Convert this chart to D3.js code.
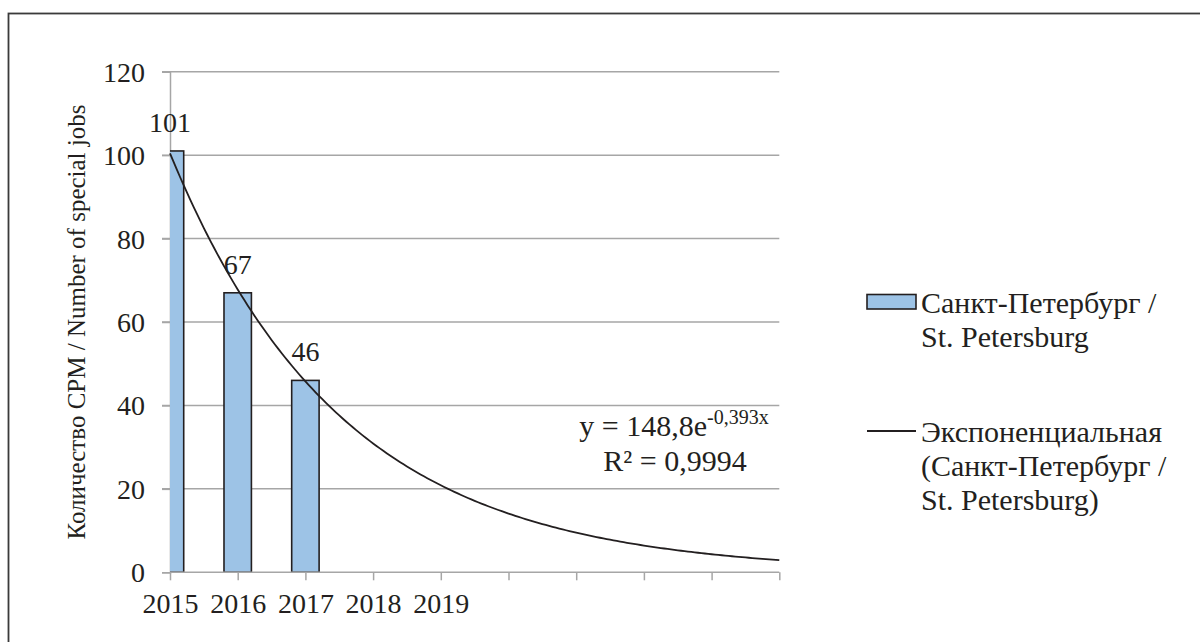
<!DOCTYPE html>
<html><head><meta charset="utf-8">
<script src="https://cdn.jsdelivr.net/npm/d3@7/dist/d3.min.js"></script>
<style>
html,body{margin:0;padding:0;background:#fff;}
</style></head>
<body><svg id="c" width="1200" height="642" font-family="Liberation Serif"></svg>
<script>
// ---- data ----
const categories = ["2015","2016","2017","2018","2019","","","","",""];
const values = [101, 67, 46];
const yTicks = [0,20,40,60,80,100,120];
const trendA = 148.8;       // y = 148,8 e^(-0,393x)
const trendB = -0.393;
const trendLabel1 = "y = 148,8e";
const trendSup = "-0,393x";
const trendLabel2 = "R² = 0,9994";
const yTitle = "Количество СРМ / Number of special jobs";
const legendBar = ["Санкт-Петербург /", "St. Petersburg"];
const legendLine = ["Экспоненциальная", "(Санкт-Петербург /", "St. Petersburg)"];

// ---- layout ----
const svg = d3.select("#c");
function serif(sel){ return sel.attr("font-family","Liberation Serif").style("font-family","Liberation Serif"); }
const L = 170, R = 779.3, T = 71.7, B = 572.3;
const gridColor = "#a6a6a6", ink = "#231f20", barFill = "#9dc3e6";
const FS = 28;

svg.append("rect").attr("x",8.5).attr("y",13.5).attr("width",1200).attr("height",700)
  .attr("fill","none").attr("stroke","#3a3a3a").attr("stroke-width",1.8);

const idx = d3.range(categories.length);
const x = d3.scaleLinear().domain([0, categories.length-1]).range([L, R]);
const y = d3.scaleLinear().domain([0,120]).range([B, T]);
const band = x(1)-x(0);
const barW = band*0.405;

// gridlines
svg.append("g").selectAll("line").data(yTicks.filter(d=>d>0)).join("line")
  .attr("x1",L-8).attr("x2",R).attr("y1",d=>y(d)).attr("y2",d=>y(d))
  .attr("stroke",gridColor).attr("stroke-width",1.5);

// y axis
const yAxis = d3.axisLeft(y).tickValues(yTicks).tickSize(8).tickPadding(17);
const gy = svg.append("g").attr("transform",`translate(${L},0)`).call(yAxis);
serif(gy);
gy.select(".domain").attr("stroke",gridColor).attr("stroke-width",1.5);
gy.selectAll(".tick line").attr("stroke",gridColor).attr("stroke-width",1.5);
serif(gy.selectAll(".tick text")).attr("font-size",FS).attr("fill",ink).attr("dy","0.34em");

// clip for plot area
svg.append("clipPath").attr("id","pc").append("rect")
  .attr("x",L).attr("y",T-40).attr("width",R-L).attr("height",B-T+40);

// bars
svg.append("g").attr("clip-path","url(#pc)").selectAll("rect").data(values).join("rect")
  .attr("x",(d,i)=>x(i)-barW/2).attr("width",barW)
  .attr("y",d=>y(d)).attr("height",d=>B-y(d))
  .attr("fill",barFill).attr("stroke",ink).attr("stroke-width",1.6);

// x axis
const xAxis = d3.axisBottom(x).tickValues(idx).tickFormat(i=>categories[i]).tickSize(8).tickPadding(13);
const gx = svg.append("g").attr("transform",`translate(0,${B})`).call(xAxis);
serif(gx);
gx.select(".domain").attr("stroke",gridColor).attr("stroke-width",1.5).attr("d",`M${L},0H${R}`);
gx.selectAll(".tick line").attr("stroke",gridColor).attr("stroke-width",1.5);
serif(gx.selectAll(".tick text")).attr("font-size",FS).attr("fill",ink).attr("dy","0.71em");

// data labels
serif(svg.append("g").selectAll("text").data(values).join("text"))
  .attr("x",(d,i)=>x(i)).attr("y",d=>y(d)-19)
  .attr("text-anchor","middle").attr("font-size",FS).attr("fill",ink).text(d=>d);

// trendline (from displayed equation)
const tx = d3.range(0, categories.length-1+0.001, 0.05);
const line = d3.line().x(t=>x(t)).y(t=>y(trendA*Math.exp(trendB*(t+1))));
svg.append("path").datum(tx).attr("d",line).attr("fill","none").attr("stroke",ink).attr("stroke-width",1.8);

// equation
const eq = serif(svg.append("text")).attr("x",674).attr("y",436).attr("text-anchor","middle")
  .attr("font-size",30).attr("fill",ink);
eq.append("tspan").text(trendLabel1);
eq.append("tspan").attr("font-size",20).attr("dy",-12).text(trendSup);
serif(svg.append("text")).attr("x",675).attr("y",471).attr("text-anchor","middle").attr("font-size",30)
  .attr("fill",ink).text(trendLabel2);

// y title
serif(svg.append("text")).attr("transform",`translate(85,${(T+B)/2}) rotate(-90)`)
  .attr("text-anchor","middle").attr("font-size",25).attr("fill",ink).text(yTitle);

// legend
svg.append("rect").attr("x",867).attr("y",294.5).attr("width",49).attr("height",14.5)
  .attr("fill",barFill).attr("stroke",ink).attr("stroke-width",1.6);
legendBar.forEach((s,i)=>serif(svg.append("text")).attr("x",921).attr("y",313+i*34)
  .attr("font-size",30).attr("fill",ink).text(s));
svg.append("line").attr("x1",867).attr("x2",916).attr("y1",431).attr("y2",431)
  .attr("stroke",ink).attr("stroke-width",1.8);
legendLine.forEach((s,i)=>serif(svg.append("text")).attr("x",921).attr("y",442+i*34)
  .attr("font-size",30).attr("fill",ink).text(s));
</script></body></html>
